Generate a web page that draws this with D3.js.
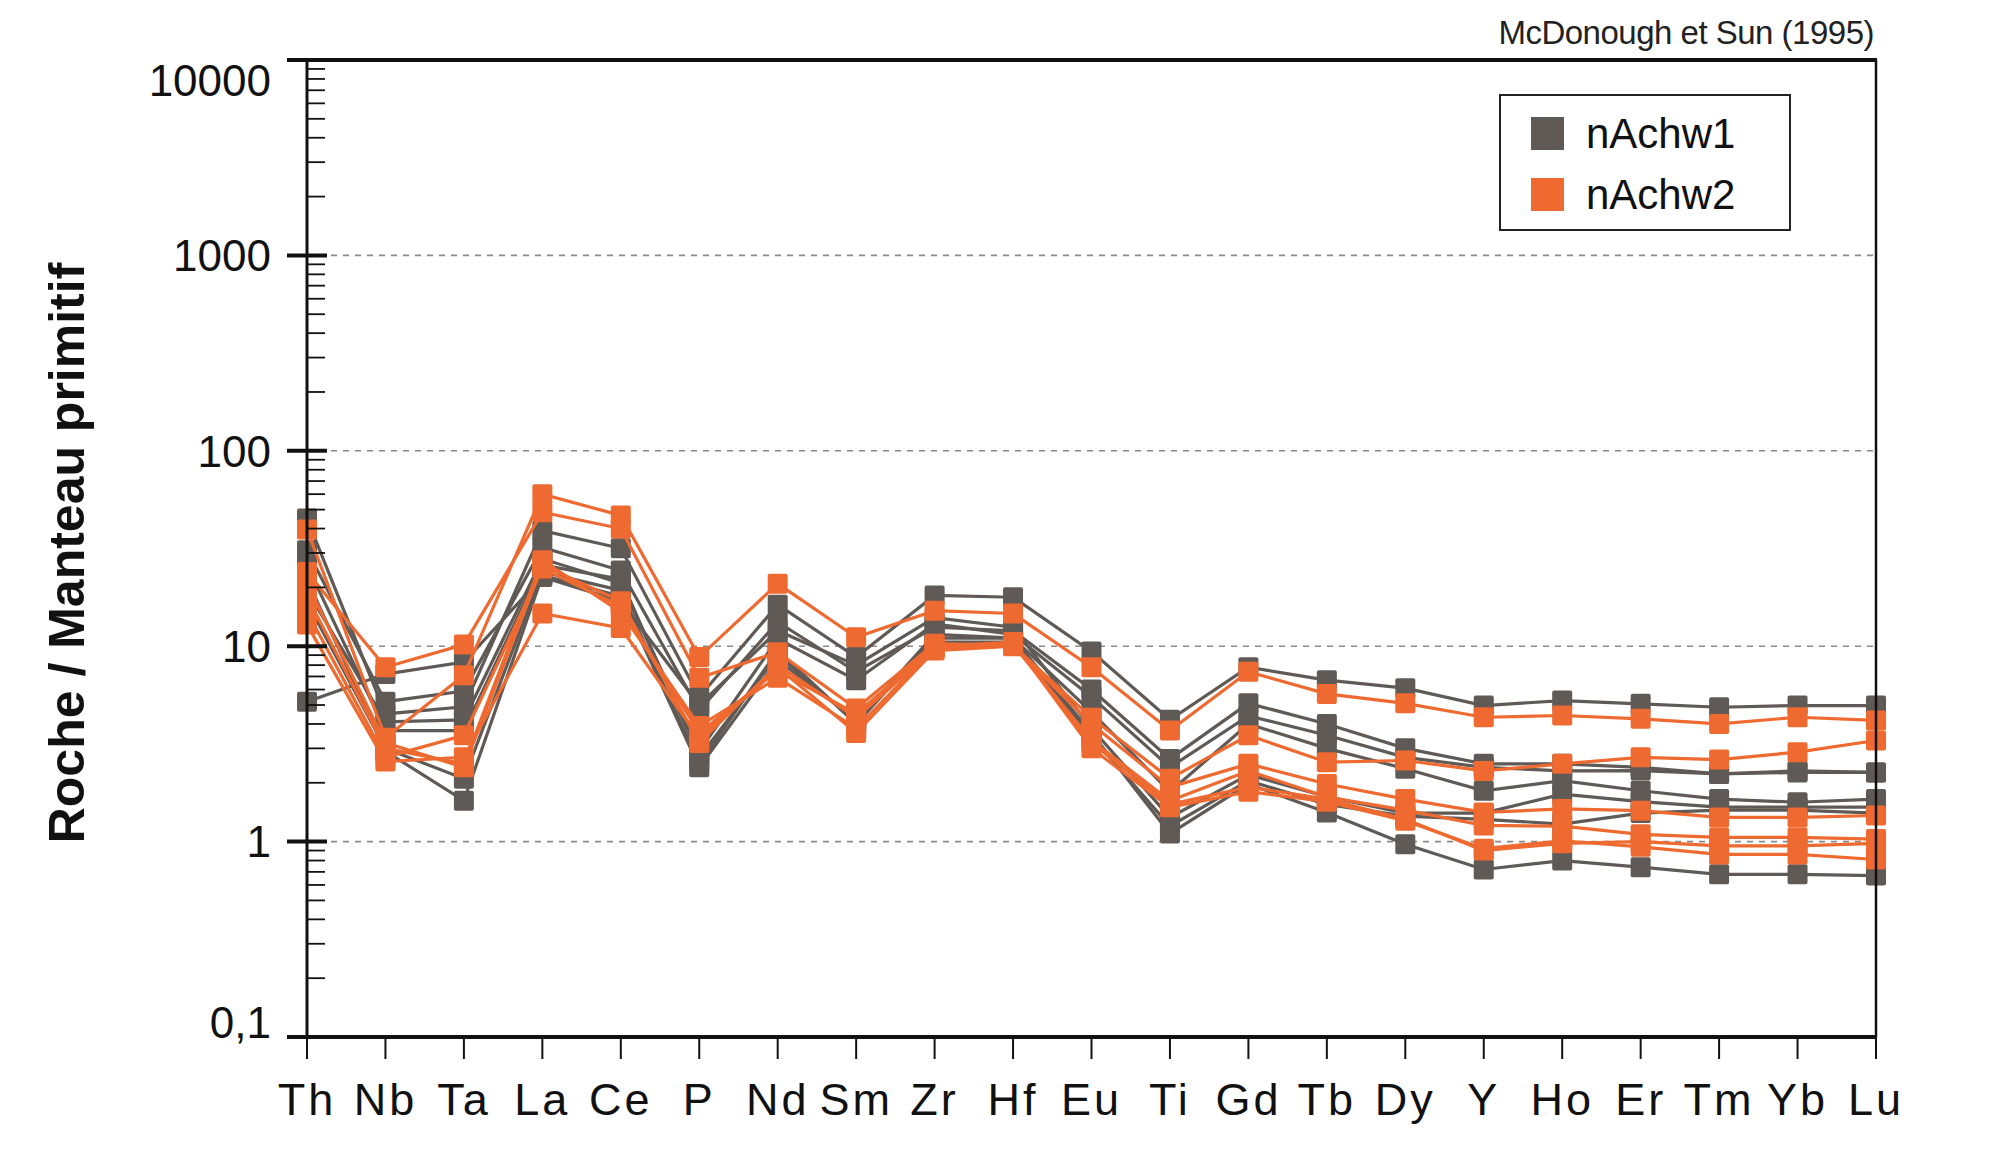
<!DOCTYPE html>
<html>
<head>
<meta charset="utf-8">
<script src="https://cdn.jsdelivr.net/npm/d3@7"></script>
<style>
  body { margin: 0; background: #fff; }
  text { font-family: "Liberation Sans", Arial, sans-serif; }
</style>
</head>
<body>
<svg id="chart" width="2000" height="1157"></svg>
<script>
// element order along the x axis
const elements = ["Th","Nb","Ta","La","Ce","P","Nd","Sm","Zr","Hf","Eu","Ti","Gd","Tb","Dy","Y","Ho","Er","Tm","Yb","Lu"];

// y axis ticks
const yTicks      = [0.1, 1, 10, 100, 1000, 10000];
const yTickLabels = ["0,1", "1", "10", "100", "1000", "10000"];
const gridValues  = [1, 10, 100, 1000];

// nAchw1 samples (grey), values normalised to primitive mantle
const nAchw1 = [
  [45, 4.5, 4.9, 39, 31.7, 5.5, 16.3, 8.8, 18.2, 17.8, 9.4, 4.2, 7.8, 6.7, 6.1, 4.97, 5.27, 5.07, 4.87, 4.97, 4.97],
  [31, 5.2, 5.9, 32, 24.4, 4.7, 13.3, 7.4, 12.5, 12, 6.0, 2.65, 5.1, 4.0, 3.0, 2.5, 2.5, 2.4, 2.22, 2.26, 2.26],
  [19.3, 4.1, 4.2, 28, 21, 2.9, 10.9, 6.7, 13, 11.5, 5.5, 2.4, 4.4, 3.5, 2.7, 2.4, 2.3, 2.31, 2.22, 2.3, 2.26],
  [16.8, 3.0, 2.1, 24, 19.3, 2.5, 9.5, 4.0, 11, 11, 4.6, 1.8, 4.0, 3.0, 2.36, 1.82, 2.05, 1.82, 1.65, 1.59, 1.65],
  [5.2, 7.2, 8.3, 22.6, 17, 5.0, 12, 8.0, 14, 12.5, 3.8, 1.33, 2.2, 1.7, 1.4, 1.4, 1.75, 1.6, 1.5, 1.5, 1.5],
  [22, 2.9, 1.62, 23, 18, 2.4, 8.5, 4.2, 10.5, 10.5, 3.45, 1.2, 2.05, 1.55, 1.35, 1.3, 1.23, 1.4, 1.45, 1.45, 1.4],
  [26, 3.7, 3.7, 26, 22, 2.7, 9, 4.1, 11.5, 11, 3.6, 1.1, 1.97, 1.41, 0.97, 0.72, 0.8, 0.74, 0.68, 0.68, 0.67]
];

// nAchw2 samples (orange)
const nAchw2 = [
  [39.6, 3.4, 7.1, 60, 46.7, 8.8, 20.9, 11.1, 15.2, 14.7, 7.8, 3.7, 7.4, 5.7, 5.1, 4.33, 4.42, 4.25, 4.0, 4.33, 4.17],
  [24, 7.8, 10.2, 48.5, 40, 6.9, 9.3, 4.8, 10.3, 10.1, 4.3, 2.1, 3.5, 2.55, 2.6, 2.3, 2.5, 2.7, 2.63, 2.87, 3.29],
  [12.9, 2.57, 2.7, 14.7, 12.4, 3.4, 7.8, 3.6, 9.5, 10, 4.0, 1.9, 2.5, 1.97, 1.65, 1.41, 1.47, 1.44, 1.33, 1.33, 1.36],
  [18, 3.0, 2.5, 27.5, 15, 3.9, 6.9, 3.8, 9.8, 10.2, 3.3, 1.62, 2.3, 1.69, 1.45, 1.21, 1.2, 1.09, 1.05, 1.05, 1.03],
  [15, 2.7, 3.5, 25, 16, 3.6, 7.5, 4.5, 10, 10.5, 3.0, 1.5, 1.8, 1.6, 1.28, 0.92, 1.01, 0.94, 0.86, 0.86, 0.81],
  [21, 3.2, 2.4, 26, 17, 3.2, 8.0, 4.3, 9.7, 10.3, 3.2, 1.55, 1.9, 1.65, 1.3, 0.9, 0.98, 1.0, 0.95, 0.95, 0.98]
];

const groupNames  = ["nAchw1", "nAchw2"];
const groupColors = ["#605a56", "#ee6a30"];

const svg = d3.select("#chart");

const x = d3.scalePoint().domain(elements).range([307, 1876]);
const y = d3.scaleLog().domain([0.1, 10000]).range([1037, 60]);

const frameLeft = 292, frameRight = 1877;

// dashed grid lines
svg.append("g").selectAll("line")
  .data(gridValues)
  .join("line")
    .attr("x1", x("Th")).attr("x2", frameRight)
    .attr("y1", d => y(d)).attr("y2", d => y(d))
    .attr("stroke", "#8a8a8a")
    .attr("stroke-width", 1.6)
    .attr("stroke-dasharray", "6,6");

// series
const line = d3.line()
  .x((d, i) => x(elements[i]))
  .y(d => y(d));

[nAchw1, nAchw2].forEach((group, gi) => {
  const g = svg.append("g").attr("class", groupNames[gi]);
  group.forEach(sample => {
    g.append("path")
      .attr("d", line(sample))
      .attr("fill", "none")
      .attr("stroke", groupColors[gi])
      .attr("stroke-width", 3.2);
  });
  group.forEach(sample => {
    g.selectAll(null)
      .data(sample)
      .join("rect")
        .attr("x", (d, i) => x(elements[i]) - 10)
        .attr("y", d => y(d) - 10)
        .attr("width", 20).attr("height", 20)
        .attr("rx", 2)
        .attr("fill", groupColors[gi]);
  });
});

// frame
svg.append("line")
  .attr("x1", frameLeft).attr("x2", frameRight)
  .attr("y1", y(10000)).attr("y2", y(10000))
  .attr("stroke", "#111").attr("stroke-width", 4);
svg.append("line")
  .attr("x1", frameRight - 1).attr("x2", frameRight - 1)
  .attr("y1", y(10000)).attr("y2", y(0.1))
  .attr("stroke", "#111").attr("stroke-width", 2.5);

// y axis (log, minor ticks inward)
const minorTicks = [];
for (let e = -1; e < 4; e++) {
  for (let k = 2; k <= 9; k++) minorTicks.push(k * Math.pow(10, e));
}
const yAxis = svg.append("g");
yAxis.append("line")
  .attr("x1", x("Th")).attr("x2", x("Th"))
  .attr("y1", y(10000)).attr("y2", y(0.1))
  .attr("stroke", "#111").attr("stroke-width", 3);
yAxis.selectAll(".minor")
  .data(minorTicks)
  .join("line")
    .attr("x1", x("Th")).attr("x2", x("Th") + 18)
    .attr("y1", d => y(d)).attr("y2", d => y(d))
    .attr("stroke", "#111").attr("stroke-width", 1.8);
yAxis.selectAll(".major")
  .data(yTicks)
  .join("line")
    .attr("x1", x("Th") - 20).attr("x2", x("Th") + 20)
    .attr("y1", d => y(d)).attr("y2", d => y(d))
    .attr("stroke", "#111").attr("stroke-width", 4);
yAxis.selectAll("text")
  .data(yTicks)
  .join("text")
    .attr("x", 271)
    .attr("y", d => Math.min(Math.max(y(d), 80), 1022))
    .attr("dy", "0.36em")
    .attr("text-anchor", "end")
    .attr("font-size", 44)
    .attr("fill", "#111")
    .text((d, i) => yTickLabels[i]);

// x axis
const xAxis = svg.append("g");
xAxis.append("line")
  .attr("x1", frameLeft).attr("x2", frameRight)
  .attr("y1", y(0.1)).attr("y2", y(0.1))
  .attr("stroke", "#111").attr("stroke-width", 4);
xAxis.selectAll(".tick")
  .data(elements)
  .join("line")
    .attr("x1", d => x(d)).attr("x2", d => x(d))
    .attr("y1", y(0.1)).attr("y2", y(0.1) + 22)
    .attr("stroke", "#111").attr("stroke-width", 2);
xAxis.selectAll("text")
  .data(elements)
  .join("text")
    .attr("x", d => x(d))
    .attr("y", 1115)
    .attr("text-anchor", "middle")
    .attr("font-size", 45)
    .attr("letter-spacing", 3)
    .attr("fill", "#111")
    .text(d => d);

// y title
svg.append("text")
  .attr("transform", "translate(84,553) rotate(-90)")
  .attr("text-anchor", "middle")
  .attr("font-size", 50)
  .attr("font-weight", "bold")
  .attr("fill", "#111")
  .text("Roche / Manteau primitif");

// reference note
svg.append("text")
  .attr("x", 1874).attr("y", 44)
  .attr("text-anchor", "end")
  .attr("font-family", "'Open Sans', sans-serif")
  .attr("font-size", 33)
  .attr("letter-spacing", -0.5)
  .attr("fill", "#222")
  .text("McDonough et Sun (1995)");

// legend
const legend = svg.append("g").attr("transform", "translate(1500,95)");
legend.append("rect")
  .attr("width", 290).attr("height", 135)
  .attr("fill", "#fff")
  .attr("stroke", "#222").attr("stroke-width", 2);
groupNames.forEach((name, i) => {
  legend.append("rect")
    .attr("x", 31).attr("y", 22 + i * 61)
    .attr("width", 33).attr("height", 33)
    .attr("fill", groupColors[i]);
  legend.append("text")
    .attr("x", 86).attr("y", 38 + i * 61)
    .attr("dy", "0.36em")
    .attr("font-size", 42)
    .attr("fill", "#111")
    .text(name);
});
</script>
</body>
</html>
